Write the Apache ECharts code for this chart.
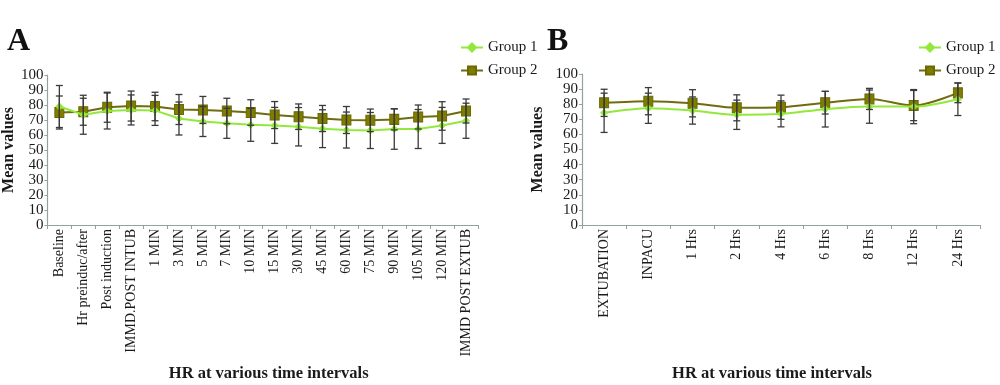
<!DOCTYPE html>
<html><head><meta charset="utf-8">
<script src="https://cdn.jsdelivr.net/npm/echarts@6/dist/echarts.min.js"></script>
<style>html,body{margin:0;padding:0;background:#fff}#c{width:1000px;height:385px}</style>
</head><body><div id="c"></div>
<script>
const catsA = ['Baseline','Hr preinduc/after','Post induction','IMMD.POST INTUB','1 MIN','3 MIN','5 MIN','7 MIN','10 MIN','15 MIN','30 MIN','45 MIN','60 MIN','75 MIN','90 MIN','105 MIN','120 MIN','IMMD POST EXTUB'];
const g1A = [79, 73.5, 76, 76.7, 76.4, 71, 69, 67.8, 66.8, 66.4, 65.5, 64.2, 63.3, 63, 64, 64, 66.4, 69.5];
const g2A = [75, 75.5, 78.5, 79.3, 79, 77, 76.7, 76, 75, 73.3, 72.2, 71, 70, 69.8, 70.4, 72, 72.7, 76];
const sd1A = [14, 13, 12, 10, 10, 11, 10, 10, 11, 12, 12.8, 12.6, 12, 12, 13.5, 13, 12, 11.7];
const sd2A = [11, 9, 10, 10, 9.5, 10, 9, 8.5, 8.5, 9, 8.5, 8.7, 9, 7.5, 7, 8, 9.5, 8];

const catsB = ['EXTUBATION','INPACU','1 Hrs','2 Hrs','4 Hrs','6 Hrs','8 Hrs','12 Hrs','24 Hrs'];
const g1B = [74.3, 77.3, 75.8, 73, 73.6, 76.7, 78.4, 78.4, 83.3];
const g2B = [80.9, 82, 80.6, 77.6, 78, 81, 83.5, 79.1, 87.5];
const sd1B = [13, 10, 9, 9.7, 8.6, 11.8, 11, 11.3, 10.8];
const sd2B = [9, 9, 9, 8.6, 8, 7.5, 7, 10, 6.5];

const yTicks = [0,10,20,30,40,50,60,70,80,90,100];
const seriesNames = ['Group 1','Group 2'];
const xName = 'HR at various time intervals';
const yName = 'Mean values';

const FONT = '"Liberation Serif", "DejaVu Serif", serif';
const C1 = '#93e83c', C2line = '#6f6c10', C2 = '#7f7d00';

const chart = echarts.init(document.getElementById('c'), null, {renderer:'canvas'});

function errData(mean, sd){ return mean.map((m,i)=>[i, m - sd[i], m + sd[i]]); }
function errSeries(xi, yi, data){
  return {
    type:'custom', xAxisIndex:xi, yAxisIndex:yi, z:5, silent:true,
    data: data,
    renderItem: function(params, api){
      const x = api.value(0);
      const lo = api.coord([x, api.value(1)]);
      const hi = api.coord([x, api.value(2)]);
      const w = 3.5;
      const st = {stroke:'#3a3a3a', lineWidth:1.3};
      return {type:'group', children:[
        {type:'line', shape:{x1:lo[0], y1:lo[1], x2:hi[0], y2:hi[1]}, style:st},
        {type:'line', shape:{x1:lo[0]-w, y1:lo[1], x2:lo[0]+w, y2:lo[1]}, style:st},
        {type:'line', shape:{x1:hi[0]-w, y1:hi[1], x2:hi[0]+w, y2:hi[1]}, style:st}
      ]};
    }
  };
}
function xAx(gi, cats, pad){
  return {
    type:'category', gridIndex:gi, data:cats, boundaryGap:true,
    axisLine:{lineStyle:{color:'#8fa3a3', width:1.2}},
    axisTick:{show:true, interval:0, length:4, lineStyle:{color:'#8fa3a3'}},
    axisLabel:{interval:0, rotate:90, fontFamily:FONT, fontSize:14, color:'#1a1a1a', margin:4},
    name:xName, nameLocation:'middle', nameGap:140,
    nameTextStyle:{fontFamily:FONT, fontSize:16.5, fontWeight:'bold', color:'#1a1a1a', padding:pad}
  };
}
function yAx(gi, gap){
  return {
    type:'value', gridIndex:gi, min:0, max:100, interval:10,
    axisLine:{show:true, lineStyle:{color:'#8fa3a3', width:1.2}},
    axisTick:{show:true, length:3, lineStyle:{color:'#8fa3a3'}},
    splitLine:{show:false},
    axisLabel:{fontFamily:FONT, fontSize:15, color:'#1a1a1a', margin:4,
      formatter: v => yTicks.includes(v) ? String(v) : ''},
    name:yName, nameLocation:'middle', nameGap:gap, nameRotate:90,
    nameTextStyle:{fontFamily:FONT, fontSize:16, fontWeight:'bold', color:'#1a1a1a'}
  };
}
function lineS(name, xi, yi, data, smooth){
  const g1 = name === seriesNames[0];
  return {
    name:name, type:'line', xAxisIndex:xi, yAxisIndex:yi, data:data, smooth:smooth,
    symbol: g1 ? 'diamond' : 'rect', symbolSize: g1 ? 7 : [9,10],
    lineStyle:{color: g1 ? C1 : C2line, width: 2},
    itemStyle:{color: g1 ? C1 : C2, borderColor: g1 ? C1 : '#6a6800', borderWidth:1},
    z: g1 ? 3 : 2
  };
}

const option = {
  animation:false,
  backgroundColor:'#fff',
  textStyle:{fontFamily:FONT},
  grid:[
    {left:40, right:522, top:75, bottom:160},
    {left:582, right:20, top:74, bottom:160}
  ],
  xAxis:[xAx(0, catsA, [0,0,0,12]), xAx(1, catsB, [0,18,0,0])],
  yAxis:[yAx(0, 23), yAx(1, 36)],
  legend:[
    {left:455, top:35, orient:'vertical', itemGap:8, itemWidth:22, itemHeight:10,
     data:seriesNames, textStyle:{fontFamily:FONT, fontSize:15, color:'#1a1a1a'}},
    {left:913, top:35, orient:'vertical', itemGap:8, itemWidth:22, itemHeight:10,
     data:seriesNames, textStyle:{fontFamily:FONT, fontSize:15, color:'#1a1a1a'}}
  ],
  graphic:[
    {type:'text', left:7, top:26, style:{text:'A', font:'bold 32px ' + FONT, fill:'#111'}},
    {type:'text', left:547, top:26, style:{text:'B', font:'bold 32px ' + FONT, fill:'#111'}}
  ],
  series:[
    lineS(seriesNames[0], 0, 0, g1A, false),
    lineS(seriesNames[1], 0, 0, g2A, false),
    errSeries(0, 0, errData(g1A, sd1A)),
    errSeries(0, 0, errData(g2A, sd2A)),
    lineS(seriesNames[0], 1, 1, g1B, 0.3),
    lineS(seriesNames[1], 1, 1, g2B, 0.3),
    errSeries(1, 1, errData(g1B, sd1B)),
    errSeries(1, 1, errData(g2B, sd2B))
  ]
};
chart.setOption(option);
</script>
</body></html>
